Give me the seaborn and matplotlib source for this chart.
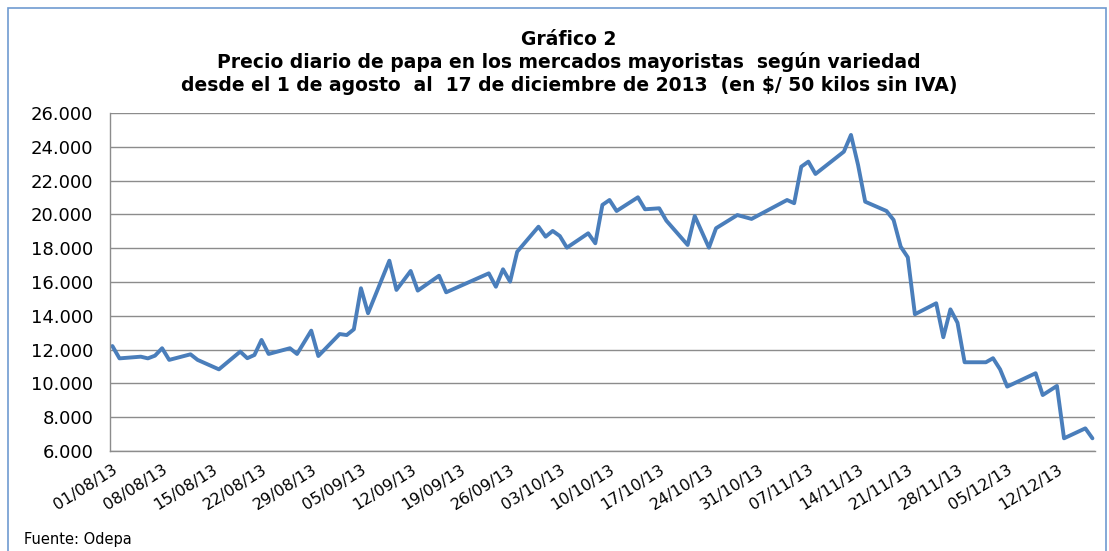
import seaborn as sns
import matplotlib.pyplot as plt
import matplotlib.dates as mdates
import matplotlib.ticker as mticker
from matplotlib.patches import Rectangle
import pandas as pd

# fechas (días hábiles) y precio en $/50 kg
fechas = [
    "2013-08-01", "2013-08-02", "2013-08-05", "2013-08-06", "2013-08-07",
    "2013-08-08", "2013-08-09", "2013-08-12", "2013-08-13", "2013-08-16",
    "2013-08-19", "2013-08-20", "2013-08-21", "2013-08-22", "2013-08-23",
    "2013-08-26", "2013-08-27", "2013-08-29", "2013-08-30", "2013-09-02",
    "2013-09-03", "2013-09-04", "2013-09-05", "2013-09-06", "2013-09-09",
    "2013-09-10", "2013-09-12", "2013-09-13", "2013-09-16", "2013-09-17",
    "2013-09-23", "2013-09-24", "2013-09-25", "2013-09-26", "2013-09-27",
    "2013-09-30", "2013-10-01", "2013-10-02", "2013-10-03", "2013-10-04",
    "2013-10-07", "2013-10-08", "2013-10-09", "2013-10-10", "2013-10-11",
    "2013-10-14", "2013-10-15", "2013-10-17", "2013-10-18", "2013-10-21",
    "2013-10-22", "2013-10-24", "2013-10-25", "2013-10-28", "2013-10-30",
    "2013-11-04", "2013-11-05", "2013-11-06", "2013-11-07", "2013-11-08",
    "2013-11-12", "2013-11-13", "2013-11-14", "2013-11-15", "2013-11-18",
    "2013-11-19", "2013-11-20", "2013-11-21", "2013-11-22", "2013-11-25",
    "2013-11-26", "2013-11-27", "2013-11-28", "2013-11-29", "2013-12-02",
    "2013-12-03", "2013-12-04", "2013-12-05", "2013-12-09", "2013-12-10",
    "2013-12-12", "2013-12-13", "2013-12-16", "2013-12-17",
]
precios = [
    12210, 11480, 11580, 11480, 11640,
    12080, 11390, 11720, 11390, 10830,
    11880, 11490, 11680, 12570, 11740,
    12080, 11740, 13120, 11620, 12920,
    12860, 13200, 15630, 14150, 17260,
    15530, 16650, 15490, 16370, 15390,
    16510, 15720, 16750, 16020, 17790,
    19270, 18680, 19020, 18720, 18030,
    18880, 18290, 20560, 20850, 20200,
    21010, 20300, 20360, 19630, 18190,
    19900, 18030, 19180, 19960, 19730,
    20850, 20660, 22820, 23120, 22390,
    23710, 24700, 22920, 20750, 20200,
    19670, 18090, 17460, 14090, 14740,
    12730, 14380, 13590, 11250, 11250,
    11490, 10830, 9810, 10600, 9310,
    9850, 6750, 7340, 6750,
]
y_ticks = list(range(6000, 26001, 2000))

df = pd.DataFrame({"fecha": pd.to_datetime(fechas), "precio": precios})

sns.set_style("white")
plt.rcParams["font.family"] = ["DejaVu Sans"]
plt.rcParams["text.color"] = "black"
plt.rcParams["xtick.color"] = "black"
plt.rcParams["ytick.color"] = "black"

fig = plt.figure(figsize=(11.09, 5.51), dpi=100)
ax = fig.add_axes([0.0992, 0.1815, 0.888, 0.6135])

sns.lineplot(x="fecha", y="precio", data=df, ax=ax, color="#4a7ebb", linewidth=2.8)

# ejes
ax.set_ylim(6000, 26000)
ax.set_yticks(y_ticks)
ax.yaxis.set_major_formatter(mticker.FuncFormatter(lambda v, p: f"{int(v):,}".replace(",", ".")))
ax.set_xlim(pd.Timestamp("2013-07-31 16:00"), pd.Timestamp("2013-12-17 08:00"))
ticks = pd.date_range("2013-08-01", "2013-12-12", freq="7D")
ax.set_xticks(ticks)
ax.xaxis.set_major_formatter(mdates.DateFormatter("%d/%m/%y"))
plt.setp(ax.get_xticklabels(), rotation=32, ha="right", rotation_mode="anchor", fontsize=11.5)
plt.setp(ax.get_yticklabels(), fontsize=13)
ax.tick_params(axis="y", length=0, pad=12)
ax.tick_params(axis="x", length=0, pad=8)
ax.grid(axis="y", color="#8c8c8c", linewidth=1)
for s in ["top", "right"]:
    ax.spines[s].set_visible(False)
for s in ["left", "bottom"]:
    ax.spines[s].set_color("#8c8c8c")
    ax.spines[s].set_linewidth(1)
ax.set_xlabel("")
ax.set_ylabel("")

# título
fig.text(0.513, 0.928, "Gráfico 2", ha="center", va="center", fontsize=13.5, fontweight="bold")
fig.text(0.513, 0.887, "Precio diario de papa en los mercados mayoristas  según variedad",
         ha="center", va="center", fontsize=13.5, fontweight="bold")
fig.text(0.513, 0.845, "desde el 1 de agosto  al  17 de diciembre de 2013  (en $/ 50 kilos sin IVA)",
         ha="center", va="center", fontsize=13.5, fontweight="bold")

fig.text(0.022, 0.02, "Fuente: Odepa", ha="left", va="center", fontsize=10.5)

# marco
fig.patches.append(Rectangle((0.007, -0.01), 0.99, 0.995, transform=fig.transFigure,
                             fill=False, edgecolor="#6f9bd1", linewidth=1.2))

plt.savefig("out.png", dpi=100)
